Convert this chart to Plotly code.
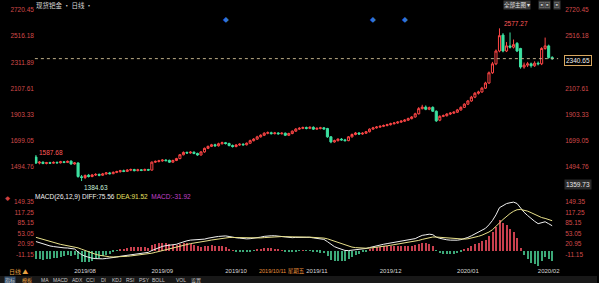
import pandas as pd
import plotly.graph_objects as go

# ---------------- data ----------------
dates = pd.bdate_range("2019-07-12", "2020-02-04").strftime("%Y-%m-%d").tolist()

opens = [1572,1525,1532,1522,1528,1524,1530,1527,1535,1530,1540,1518,1526,1418,1412,1430,1420,1432,1436,1430,
         1440,1448,1442,1452,1458,1465,1460,1470,1474,1466,1472,1468,1474,1470,1532,1538,1542,1548,1546,1532,
         1545,1560,1590,1608,1604,1610,1600,1588,1612,1640,1655,1668,1660,1676,1684,1678,1662,1654,1666,1672,
         1668,1680,1700,1712,1730,1742,1758,1762,1755,1760,1754,1758,1742,1756,1774,1790,1796,1802,1796,1804,
         1790,1796,1800,1795,1730,1690,1700,1712,1706,1700,1730,1748,1760,1752,1758,1770,1790,1800,1806,1812,
         1818,1825,1832,1838,1845,1852,1860,1872,1885,1910,1950,1962,1945,1960,1930,1860,1890,1895,1908,1915,
         1922,1940,1960,1985,2010,2040,2070,2080,2110,2150,2230,2300,2400,2525,2400,2440,2430,2460,2420,2275,
         2290,2300,2285,2305,2300,2420,2440,2350]
highs = [1587.68,1540,1538,1534,1535,1538,1537,1542,1540,1545,1546,1532,1530,1432,1436,1440,1440,1446,1444,1448,
         1455,1456,1460,1465,1472,1474,1478,1482,1480,1480,1478,1482,1480,1538,1545,1550,1555,1556,1552,1552,
         1566,1596,1616,1615,1618,1616,1606,1618,1646,1662,1675,1676,1684,1692,1690,1684,1670,1674,1680,1680,
         1686,1708,1720,1738,1750,1766,1772,1770,1768,1766,1766,1764,1762,1780,1798,1806,1810,1810,1812,1812,
         1804,1808,1806,1800,1736,1708,1718,1720,1714,1736,1756,1768,1766,1766,1776,1796,1808,1814,1820,1826,
         1832,1840,1846,1852,1860,1868,1880,1892,1918,1962,1980,1975,1966,1968,1936,1898,1904,1915,1922,1930,
         1948,1968,1992,2018,2050,2080,2090,2120,2160,2240,2315,2412,2577.27,2540,2470,2545,2490,2470,2425,2310,
         2315,2310,2320,2318,2430,2505,2450,2360]
lows = [1518,1515,1516,1515,1518,1520,1520,1522,1524,1525,1512,1512,1410,1384.63,1400,1412,1414,1424,1422,1425,
        1434,1436,1438,1446,1450,1454,1455,1462,1460,1460,1462,1462,1463,1466,1526,1530,1535,1538,1526,1528,
        1540,1555,1585,1596,1598,1594,1582,1584,1606,1634,1650,1652,1654,1670,1670,1655,1646,1648,1660,1660,
        1662,1676,1694,1706,1724,1736,1750,1748,1748,1746,1748,1736,1736,1750,1768,1784,1790,1788,1790,1784,
        1784,1788,1786,1722,1680,1684,1694,1700,1694,1696,1724,1742,1746,1746,1752,1764,1786,1794,1800,1806,
        1812,1818,1826,1832,1838,1846,1854,1866,1880,1904,1944,1938,1938,1924,1846,1852,1884,1888,1900,1908,
        1916,1934,1955,1978,2004,2032,2060,2074,2104,2144,2222,2290,2390,2390,2392,2420,2420,2392,2262,2262,
        2275,2270,2276,2288,2290,2410,2340,2330]
closes = [1525,1532,1522,1528,1524,1530,1527,1535,1530,1538,1518,1526,1420,1412,1428,1420,1432,1436,1430,1440,
          1448,1442,1452,1458,1465,1460,1470,1474,1466,1472,1468,1474,1470,1532,1538,1542,1548,1544,1532,1545,
          1560,1590,1608,1604,1610,1600,1588,1612,1640,1655,1668,1660,1676,1684,1678,1662,1654,1666,1672,1668,
          1680,1700,1712,1730,1742,1758,1762,1755,1760,1754,1758,1742,1756,1774,1790,1796,1802,1796,1804,1790,
          1796,1800,1792,1730,1690,1700,1712,1706,1700,1730,1748,1760,1752,1758,1770,1790,1800,1806,1812,1818,
          1825,1832,1838,1845,1852,1860,1872,1885,1910,1950,1962,1945,1958,1930,1855,1890,1895,1908,1915,1922,
          1940,1960,1985,2010,2040,2070,2080,2110,2150,2230,2300,2400,2520,2400,2440,2430,2450,2400,2275,2290,
          2300,2285,2305,2300,2420,2440,2350,2340.65]

price_ticks = [2720.45, 2516.18, 2311.89, 2107.61, 1903.33, 1699.05, 1494.76]
price_ticks_right = [2720.45, 2516.18, 2107.61, 1903.33, 1699.05, 1494.76]
last_price = 2340.65
bottom_price = 1359.73
macd_ticks = [149.35, 117.25, 85.15, 53.05, 20.95, -11.15]
month_starts = ["2019-08-01", "2019-09-02", "2019-10-01", "2019-11-01", "2019-12-02", "2020-01-01", "2020-02-03"]
month_labels = ["2019/08", "2019/09", "2019/10", "2019/11", "2019/12", "2020/01", "2020/02"]
event_dates = ["2019-09-26", "2019-11-25", "2019-12-06"]
high_mark = ("2019-07-12", 1587.68)
low_mark = ("2019-07-31", 1384.63)
peak_mark = ("2020-01-14", 2577.27)
readout_diff, readout_dea, readout_macd = 75.56, 91.52, -31.92

# MACD(26,12,9) derived from closes, with EMAs seeded from earlier history
EMA12_SEED, EMA26_SEED, DEA_SEED = 1558.0, 1525.0, 44.0


def ema(values, n, seed):
    k = 2.0 / (n + 1)
    e = seed
    out = []
    for v in values:
        e = e + k * (v - e)
        out.append(e)
    return out


e12 = ema(closes, 12, EMA12_SEED)
e26 = ema(closes, 26, EMA26_SEED)
diff = [a - b for a, b in zip(e12, e26)]
dea = ema(diff, 9, DEA_SEED)
hist = [2 * (d - e) for d, e in zip(diff, dea)]

# ---------------- figure ----------------
W, H = 599, 283
BG = "#000000"
RED = "#ff4646"
GREEN = "#3ce0a0"
AXRED = "#d24a4a"
FONT = "Noto Sans CJK SC"
NUMFONT = "Liberation Sans"


def py(px):  # pixel row -> paper y
    return 1 - px / H


fig = go.Figure()

fig.add_trace(go.Candlestick(
    x=dates, open=opens, high=highs, low=lows, close=closes,
    increasing=dict(line=dict(color=RED, width=1), fillcolor=BG),
    decreasing=dict(line=dict(color=GREEN, width=1), fillcolor=GREEN),
    whiskerwidth=0, xaxis="x", yaxis="y", showlegend=False, hoverinfo="skip"))

fig.add_trace(go.Bar(
    x=dates, y=hist, width=0.3,
    marker=dict(color=["#c8404e" if h >= 0 else "#3ca878" for h in hist], line=dict(width=0)),
    xaxis="x2", yaxis="y2", showlegend=False, hoverinfo="skip"))
fig.add_trace(go.Scatter(x=dates, y=diff, mode="lines", line=dict(color="#f0f0f0", width=1),
                         xaxis="x2", yaxis="y2", showlegend=False, hoverinfo="skip"))
fig.add_trace(go.Scatter(x=dates, y=dea, mode="lines", line=dict(color="#e8e08a", width=1),
                         xaxis="x2", yaxis="y2", showlegend=False, hoverinfo="skip"))

xdom = [35 / W, 560 / W]
xr = [-0.3, len(dates) - 1 + 1.7]
tickfont = dict(family=NUMFONT, size=6.5, color=AXRED)

fig.update_layout(
    width=W, height=H, margin=dict(l=0, r=0, t=0, b=0),
    paper_bgcolor=BG, plot_bgcolor=BG, boxgap=0.15,
    font=dict(family=FONT, size=7, color="#d0d0d0"),
    bargap=0,
    xaxis=dict(domain=xdom, type="category", range=xr, anchor="y", showticklabels=False,
               showgrid=False, zeroline=False, showline=False, rangeslider=dict(visible=False)),
    xaxis2=dict(domain=xdom, type="category", range=xr, anchor="y2", matches="x",
                tickmode="array", tickvals=month_starts, ticktext=month_labels,
                tickfont=dict(family=NUMFONT, size=6, color="#d8d8d8"),
                showgrid=False, zeroline=False, showline=False, ticks=""),
    yaxis=dict(domain=[py(191), 1], range=[1306.8, 2798.6], side="left", anchor="x",
               tickmode="array", tickvals=price_ticks, ticktext=[f"{v:.2f}" for v in price_ticks],
               tickfont=tickfont, showgrid=False, zeroline=False, showline=False, ticks=""),
    yaxis3=dict(overlaying="y", matches="y", side="right", anchor="x",
                tickmode="array", tickvals=price_ticks_right, ticktext=[f"{v:.2f}" for v in price_ticks_right],
                tickfont=tickfont, showgrid=False, zeroline=False, showline=False, ticks="",
                ticklabelstandoff=6),
    yaxis2=dict(domain=[py(266), py(195)], range=[-46.8, 170.2], side="left", anchor="x2",
                tickmode="array", tickvals=macd_ticks, ticktext=[f"{v:.2f}" for v in macd_ticks],
                tickfont=tickfont, showgrid=False, zeroline=False, showline=False, ticks=""),
    yaxis4=dict(overlaying="y2", matches="y2", side="right", anchor="x2",
                tickmode="array", tickvals=macd_ticks, ticktext=[f"{v:.2f}" for v in macd_ticks],
                tickfont=tickfont, showgrid=False, zeroline=False, showline=False, ticks="",
                ticklabelstandoff=6),
)
# invisible traces so the right-hand axes render
fig.add_trace(go.Scatter(x=[dates[0]], y=[None], yaxis="y3", xaxis="x", showlegend=False, hoverinfo="skip"))
fig.add_trace(go.Scatter(x=[dates[0]], y=[None], yaxis="y4", xaxis="x2", showlegend=False, hoverinfo="skip"))

shapes = []
shapes.append(dict(type="line", xref="x domain", x0=0, x1=1, yref="y", y0=last_price, y1=last_price,
                   line=dict(color="#bfae88", width=1, dash="dot")))
shapes.append(dict(type="rect", xref="paper", yref="paper", x0=0, x1=1, y0=0, y1=py(276),
                   fillcolor="#181818", line=dict(width=0), layer="below"))
fig.update_layout(shapes=shapes)

ann = []
ann.append(dict(xref="paper", yref="paper", x=34 / W, y=py(5), xanchor="left", yanchor="middle",
                text="现货钯金 • 日线 •", showarrow=False, font=dict(size=6.5, color="#d8d8d8")))
ann.append(dict(xref="paper", yref="paper", x=505 / W, y=py(5), xanchor="left", yanchor="middle",
                text="全部主图 ▾", showarrow=False, bgcolor="#3a3a3a", borderpad=0,
                font=dict(size=5.5, color="#e0e0e0")))
ann.append(dict(xref="paper", yref="paper", x=540 / W, y=py(5), xanchor="left", yanchor="middle",
                text="▣▣", showarrow=False, bgcolor="#3a3a3a", borderpad=0,
                font=dict(size=5.5, color="#c0c0c0")))
ann.append(dict(xref="paper", yref="paper", x=555 / W, y=py(5), xanchor="left", yanchor="middle",
                text="▣", showarrow=False, bgcolor="#3a3a3a", borderpad=0,
                font=dict(size=5.5, color="#c0c0c0")))
for d in event_dates:
    ann.append(dict(xref="x", yref="paper", x=d, y=py(13), text="◆", showarrow=False,
                    font=dict(size=6, color="#2f72d8")))
ann.append(dict(xref="x", yref="y", x=peak_mark[0], y=peak_mark[1], text=f"{peak_mark[1]:.2f}",
                xanchor="left", yanchor="bottom", xshift=3, yshift=-1, showarrow=False,
                font=dict(family=NUMFONT, size=6.5, color="#ff5a5a")))
ann.append(dict(xref="x", yref="y", x=high_mark[0], y=high_mark[1], text=f"{high_mark[1]:.2f}",
                xanchor="left", yanchor="middle", xshift=1, yshift=3, showarrow=False,
                font=dict(family=NUMFONT, size=6.5, color="#ff5a5a")))
ann.append(dict(xref="x", yref="y", x=low_mark[0], y=low_mark[1], text=f"{low_mark[1]:.2f}",
                xanchor="left", yanchor="top", xshift=0, yshift=-1, showarrow=False,
                font=dict(family=NUMFONT, size=6.5, color="#c8f0dc")))
ann.append(dict(xref="x domain", yref="y", x=1, y=last_price, xanchor="left", yanchor="middle",
                xshift=6, yshift=-2, text=f"{last_price:.2f}", showarrow=False, bgcolor="#000000",
                bordercolor="#d8a860", borderwidth=1, borderpad=1,
                font=dict(family=NUMFONT, size=6.5, color="#f0f0f0")))
ann.append(dict(xref="x domain", yref="y", x=1, y=bottom_price, xanchor="left", yanchor="middle",
                xshift=6, text=f"{bottom_price:.2f}", showarrow=False, bgcolor="#2a2a2a", borderpad=1,
                font=dict(family=NUMFONT, size=6.5, color="#e8e8e8")))
ann.append(dict(xref="paper", yref="paper", x=3 / W, y=py(197), xanchor="left", yanchor="middle",
                text="◆", showarrow=False, font=dict(size=5, color="#d04040")))
ann.append(dict(xref="paper", yref="paper", x=33 / W, y=py(197), xanchor="left", yanchor="middle",
                text=(f"<span style='color:#f0f0f0'>MACD(26,12,9) DIFF:{readout_diff:.2f}</span> "
                      f"<span style='color:#e8e060'>DEA:{readout_dea:.2f}</span>  "
                      f"<span style='color:#c040c8'>MACD:{readout_macd:.2f}</span>"),
                showarrow=False, font=dict(family=NUMFONT, size=6.5)))
ann.append(dict(xref="paper", yref="paper", x=258 / W, y=py(271), xanchor="left", yanchor="middle",
                text="2019/10/11 星期五", showarrow=False,
                font=dict(family=NUMFONT + ", " + FONT, size=5.5, color="#e8903c")))
ann.append(dict(xref="paper", yref="paper", x=7 / W, y=py(271), xanchor="left", yanchor="middle",
                text="日线 ▲", showarrow=False, font=dict(size=6, color="#e8a040")))
tabs = [("指标", 4), ("模板", 21), ("MA", 40), ("MACD", 52), ("ADX", 71), ("CCI", 85), ("DI", 100),
        ("KDJ", 111), ("RSI", 125), ("PSY", 138), ("BOLL", 152), ("VOL", 176), ("设置", 191)]
for name, xp in tabs:
    col = "#e8a040" if name == "模板" else "#c8c8c8"
    ann.append(dict(xref="paper", yref="paper", x=xp / W, y=py(280), xanchor="left", yanchor="middle",
                    text=name, showarrow=False, borderpad=0,
                    bgcolor="#34506e" if name == "指标" else None,
                    font=dict(family=NUMFONT + ", " + FONT, size=5, color=col)))
fig.update_layout(annotations=ann)

fig.write_html("out.html")
